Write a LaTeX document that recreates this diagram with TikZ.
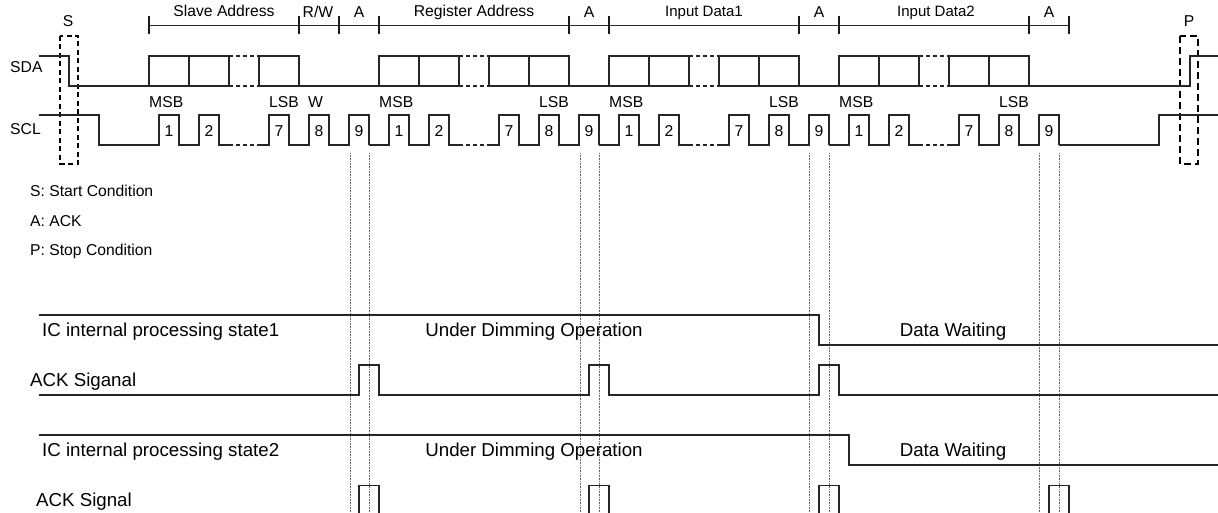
\documentclass[tikz,border=0pt]{standalone}
\usepackage{fontspec}
\setmainfont{Liberation Sans}
\begin{document}
\begin{tikzpicture}[x=1pt,y=-1pt,
  sig/.style={line width=1.1pt, draw=black!85, line join=miter},
  sigdash/.style={line width=1.6pt, draw=black!85, dash pattern=on 4pt off 3pt},
  guide/.style={draw=black!60, line width=0.6pt, dash pattern=on 0.8pt off 0.8pt},
  tick/.style={line width=1.3pt, draw=black!90},
  lbl/.style={inner sep=0pt, text height=11.2pt, text depth=0pt, font=\fontsize{15.7}{18}\selectfont},
  big/.style={inner sep=0pt, text height=13.4pt, text depth=0pt, font=\fontsize{18.7}{22}\selectfont}]
\useasboundingbox (0,0) rectangle (1218,513);
\fill[white] (0,0) rectangle (1218,513);

% dotted guide lines
\foreach \x in {350,369,580,599,809,829,1039,1059}
  \draw[guide] (\x,153) -- (\x,513);

% top bracket
\draw[line width=0.9pt, draw=black!85] (149,25) -- (1069,25);
\foreach \x in {149,299,339,379,569,609,799,839,1029,1069}
  \draw[tick] (\x,16) -- (\x,34);
\node[lbl] (tSA) at (224,11) {Slave Address};
\node[lbl] (tRW) at (318,12) {R/W};
\node[lbl] (tA1) at (359,12) {A};
\node[lbl] (tRA) at (474,11) {Register Address};
\node[lbl] (tA2) at (589,12) {A};
\node[lbl, font=\fontsize{15}{18}\selectfont] (tD1) at (704,11) {Input Data1};
\node[lbl] (tA3) at (819,12) {A};
\node[lbl, font=\fontsize{15}{18}\selectfont] (tD2) at (936,11) {Input Data2};
\node[lbl] (tA4) at (1049,12) {A};

% start / stop
\node[lbl] (tS) at (68,21) {S};
\node[lbl] (tP) at (1189,21) {P};
\draw[line width=1.1pt, dash pattern=on 5pt off 3.5pt] (60,36) rectangle (78,164);
\draw[line width=2.6pt, dash pattern=on 7pt off 4pt] (1180,36) rectangle (1198,164);

% signal names
\node[lbl, anchor=west] (lSDA) at (10,67) {SDA};
\node[lbl, anchor=west] (lSCL) at (10,128.5) {SCL};

% SDA
\draw[sig] (39,56) -- (69,56) -- (69,86) -- (149,86);
\draw[sig] (299,86) -- (379,86);
\draw[sig] (569,86) -- (609,86);
\draw[sig] (799,86) -- (839,86);
\draw[sig] (1029,86) -- (1190,86) -- (1190,56) -- (1218,56);
% slave address bits
\draw[sig] (149,56) rectangle (189,86);
\draw[sig] (189,56) rectangle (229,86);
\draw[sig] (259,56) rectangle (299,86);
\draw[sigdash] (229,56) -- (259,56) (229,86) -- (259,86);
% byte fields
\foreach \g in {379,609,839} {
  \draw[sig] (\g,56) rectangle (\g+40,86);
  \draw[sig] (\g+40,56) rectangle (\g+80,86);
  \draw[sig] (\g+110,56) rectangle (\g+150,86);
  \draw[sig] (\g+150,56) rectangle (\g+190,86);
  \draw[sigdash] (\g+80,56) -- (\g+110,56) (\g+80,86) -- (\g+110,86);
}

% SCL
\draw[sig] (39,115) -- (99,115) -- (99,145) -- (139,145);
\foreach \g [count=\i] in {149,379,609,839} {
  \draw[sig] (\g-10,145) -- (\g+10,145) -- (\g+10,115) -- (\g+30,115) -- (\g+30,145)
     -- (\g+50,145) -- (\g+50,115) -- (\g+70,115) -- (\g+70,145) -- (\g+80,145);
  \draw[sigdash] (\g+80,145) -- (\g+110,145);
  \draw[sig] (\g+110,145) -- (\g+120,145) -- (\g+120,115) -- (\g+140,115) -- (\g+140,145)
     -- (\g+160,145) -- (\g+160,115) -- (\g+180,115) -- (\g+180,145)
     -- (\g+200,145) -- (\g+200,115) -- (\g+220,115) -- (\g+220,145);
  \node[lbl] (n1-\i) at (\g+20,130.5) {1};
  \node[lbl] (n2-\i) at (\g+60,130.5) {2};
  \node[lbl] (n7-\i) at (\g+130,130.5) {7};
  \node[lbl] (n8-\i) at (\g+170,130.5) {8};
  \node[lbl] (n9-\i) at (\g+210,130.5) {9};
  \node[lbl, anchor=west] (msb-\i) at (\g,102) {MSB};
}
\draw[sig] (1059,145) -- (1159,145) -- (1159,115) -- (1218,115);
\node[lbl, anchor=east] (lsb-1) at (299,102) {LSB};
\node[lbl, anchor=west] (w1) at (308,102) {W};
\node[lbl, anchor=east] (lsb-2) at (569,102) {LSB};
\node[lbl, anchor=east] (lsb-3) at (799,102) {LSB};
\node[lbl, anchor=east] (lsb-4) at (1029,102) {LSB};

% legend
\node[lbl, anchor=west] (legS) at (30,191) {S: Start Condition};
\node[lbl, anchor=west] (legA) at (30,221) {A: ACK};
\node[lbl, anchor=west] (legP) at (30,250) {P: Stop Condition};

% IC internal processing state1
\draw[sig] (39,315) -- (819,315) -- (819,345) -- (1218,345);
\node[big, anchor=west] (st1) at (42,330) {IC internal processing state1};
\node[big] (udo1) at (534,330) {Under Dimming Operation};
\node[big] (dw1) at (953,330) {Data Waiting};

% ACK Siganal
\draw[sig] (39,395) -- (359,395) -- (359,365) -- (379,365) -- (379,395)
   -- (589,395) -- (589,365) -- (609,365) -- (609,395)
   -- (819,395) -- (819,365) -- (839,365) -- (839,395) -- (1218,395);
\node[big, anchor=west] (ack1) at (30,380) {ACK Siganal};

% IC internal processing state2
\draw[sig] (39,435) -- (849,435) -- (849,465) -- (1218,465);
\node[big, anchor=west] (st2) at (42,450) {IC internal processing state2};
\node[big] (udo2) at (534,450) {Under Dimming Operation};
\node[big] (dw2) at (953,450) {Data Waiting};

% ACK Signal
\node[big, anchor=west] (ack2) at (36,500) {ACK Signal};
\foreach \x in {359,589,819,1049}
  \draw[sig] (\x,514) -- (\x,485.3) -- (\x+20,485.3) -- (\x+20,514);
\end{tikzpicture}
\end{document}
